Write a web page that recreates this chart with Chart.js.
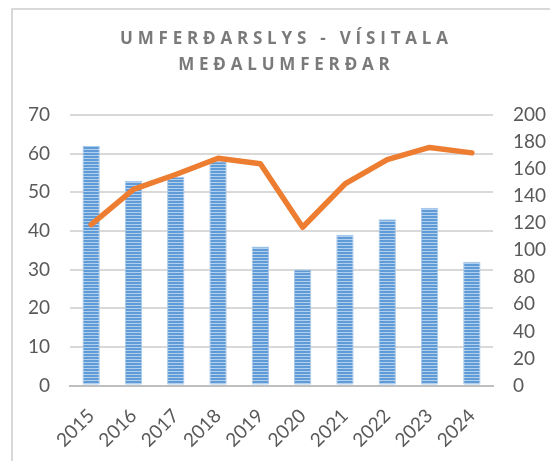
<!DOCTYPE html>
<html>
<head>
<meta charset="utf-8">
<script src="https://cdn.jsdelivr.net/npm/chart.js@4"></script>
<style>
  html, body { margin: 0; padding: 0; background: #fff; }
  #wrap { position: relative; width: 550px; height: 461px; overflow: hidden; }
  #frame {
    position: absolute; left: 11px; top: 8px; width: 600px; height: 500px;
    border: 2px solid #d9d9d9; box-sizing: border-box;
  }
  #title {
    position: absolute; left: 9px; top: 25px; width: 550px; text-align: center;
    font: bold 17px "Open Sans", sans-serif; letter-spacing: 4.8px; padding-left: 4.8px;
    color: #7a7a7a; line-height: 26px; box-sizing: border-box;
  }
  canvas { position: absolute; left: 0; top: 0; }
</style>
</head>
<body>
<div id="wrap">
  <div id="frame"></div>
  <canvas id="chart" width="550" height="461"></canvas>
  <div id="title">UMFERÐARSLYS - VÍSITALA<br>MEÐALUMFERÐAR</div>
</div>
<script>
// ── data ────────────────────────────────────────────────────────────────
const years = ["2015", "2016", "2017", "2018", "2019", "2020", "2021", "2022", "2023", "2024"];
const accidents = [62, 53, 54, 58, 36, 30, 39, 43, 46, 32];
const trafficIndex = [119, 145, 156, 168, 164, 117, 149, 167, 176, 172];

// striped fill like the Excel pattern
function stripes() {
  const c = document.createElement("canvas");
  c.width = 4;
  c.height = 3;
  const g = c.getContext("2d");
  g.fillStyle = "#5f9bd6";
  g.fillRect(0, 0, 4, 2);
  g.fillStyle = "#b3cfee";
  g.fillRect(0, 2, 4, 1);
  return g.createPattern(c, "repeat");
}

const tickFont = { family: "Lato", size: 19 };
const tickColor = "#595959";

new Chart(document.getElementById("chart"), {
  data: {
    labels: years,
    datasets: [
      {
        type: "line",
        data: trafficIndex,
        yAxisID: "y1",
        borderColor: "#ed7d31",
        borderWidth: 5.5,
        pointRadius: 0,
        tension: 0,
        borderJoinStyle: "round",
        borderCapStyle: "round",
        order: 0,
      },
      {
        type: "bar",
        data: accidents,
        yAxisID: "y",
        backgroundColor: stripes(),
        borderColor: "#a9c8ea",
        borderWidth: 1,
        categoryPercentage: 1,
        barPercentage: 0.41,
        order: 1,
      },
    ],
  },
  options: {
    responsive: false,
    animation: false,
    layout: { padding: { top: 115, left: 0, right: 0, bottom: 0 } },
    plugins: { legend: { display: false }, tooltip: { enabled: false } },
    scales: {
      x: {
        grid: { display: false, drawTicks: false },
        border: { display: true, color: "#bfbfbf", width: 2 },
        ticks: { color: tickColor, font: tickFont, minRotation: 45, maxRotation: 45, padding: 19 },
        afterFit: (s) => { s.height = 75.5; },
      },
      y: {
        position: "left",
        min: 0,
        max: 70,
        ticks: { stepSize: 10, color: tickColor, font: tickFont, padding: 20 },
        grid: { color: "#d9d9d9", lineWidth: 2, drawTicks: false },
        border: { display: false },
        afterFit: (s) => { s.width = 70; },
      },
      y1: {
        position: "right",
        min: 0,
        max: 200,
        ticks: { stepSize: 20, color: tickColor, font: tickFont, padding: 20 },
        grid: { display: false, drawTicks: false },
        border: { display: false },
        afterFit: (s) => { s.width = 57; },
      },
    },
  },
});
</script>
</body>
</html>
